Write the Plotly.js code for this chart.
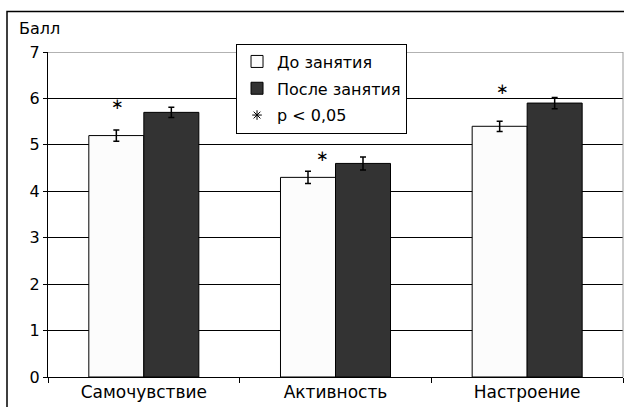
<!DOCTYPE html>
<html>
<head>
<meta charset="utf-8">
<script src="https://cdn.plot.ly/plotly-3.0.1.min.js"></script>
<style>html,body{margin:0;padding:0;background:#fff;}#chart{width:624px;height:407px;}</style>
</head>
<body>
<div id="chart"></div>
<script>
const categories = ['Самочувствие', 'Активность', 'Настроение'];
const seriesNames = ['До занятия', 'После занятия'];
const beforeValues = [5.2, 4.3, 5.4];
const afterValues = [5.7, 4.6, 5.9];
const beforeErrors = [0.12, 0.13, 0.11];
const afterErrors = [0.11, 0.14, 0.12];
const significanceLabel = 'p < 0,05';
const asteriskLevels = [5.88, 4.76, 6.2];
const yTicks = [0, 1, 2, 3, 4, 5, 6, 7];
const yTitle = 'Балл';

const FONT = 'DejaVu Sans, Arial, sans-serif';

const traces = [
  {
    type: 'bar', name: seriesNames[0], x: categories, y: beforeValues,
    marker: {color: '#fcfcfc', line: {color: '#000', width: 1}},
    error_y: {type: 'data', array: beforeErrors, visible: true, color: '#000', thickness: 1.5, width: 3},
    legendgroup: 'a'
  },
  {
    type: 'bar', name: seriesNames[1], x: categories, y: afterValues,
    marker: {color: '#333333', line: {color: '#000', width: 1}},
    error_y: {type: 'data', array: afterErrors, visible: true, color: '#000', thickness: 1.5, width: 3},
    legendgroup: 'b'
  },
  {
    type: 'scatter', mode: 'markers', name: significanceLabel, x: [null], y: [null],
    marker: {symbol: 'asterisk-open', size: 8, color: '#000', line: {color: '#000', width: 1}},
    legendgroup: 'c', hoverinfo: 'skip'
  }
];

const xShifts = [-26, -13, -25];
const annotations = categories.map((c, i) => ({
  xref: 'x', yref: 'y', x: c, y: asteriskLevels[i], xshift: xShifts[i],
  text: '∗', showarrow: false, font: {family: FONT, size: 15, color: '#000'}
}));
annotations.push({
  xref: 'paper', yref: 'paper', x: -0.054, y: 1.071, xanchor: 'left', yanchor: 'middle',
  text: yTitle, showarrow: false, font: {family: FONT, size: 16, color: '#000'}
});

const layout = {
  width: 624, height: 407,
  margin: {l: 48, r: 1, t: 52, b: 30, pad: 0},
  paper_bgcolor: '#fff', plot_bgcolor: '#fff',
  barmode: 'group', bargap: 0.426, bargroupgap: 0,
  showlegend: true,
  legend: {
    x: 0.327, y: 1.026, xanchor: 'left', yanchor: 'top',
    bgcolor: '#fff', bordercolor: '#000', borderwidth: 1,
    font: {family: FONT, size: 16, color: '#000'},
    traceorder: 'grouped', tracegroupgap: 3, itemclick: false
  },
  xaxis: {
    type: 'category', showline: true, linecolor: '#000', linewidth: 1,
    ticks: 'outside', tickson: 'boundaries', ticklen: 5, tickcolor: '#000',
    tickfont: {family: FONT, size: 17, color: '#000'}, showgrid: false, fixedrange: true
  },
  yaxis: {
    range: [0, 7], tickvals: yTicks, showline: true, linecolor: '#000', linewidth: 1,
    ticks: 'outside', ticklen: 4, tickcolor: '#000',
    tickfont: {family: FONT, size: 16, color: '#000'},
    showgrid: true, gridcolor: '#000', gridwidth: 1, zeroline: false, fixedrange: true
  },
  shapes: [
    {type: 'line', xref: 'paper', yref: 'y', x0: 0, x1: 1, y0: 7, y1: 7, layer: 'below', line: {color: '#999', width: 1.5}},
    {type: 'line', xref: 'paper', yref: 'paper', x0: 1, x1: 1, y0: 0, y1: 1, line: {color: '#999', width: 1}},
    {type: 'rect', xref: 'paper', yref: 'paper', x0: -0.0713, x1: 1.05, y0: -0.3, y1: 1.125, line: {color: '#000', width: 1.5}}
  ],
  annotations: annotations
};

Plotly.newPlot('chart', traces, layout, {staticPlot: true, displayModeBar: false});
</script>
</body>
</html>
